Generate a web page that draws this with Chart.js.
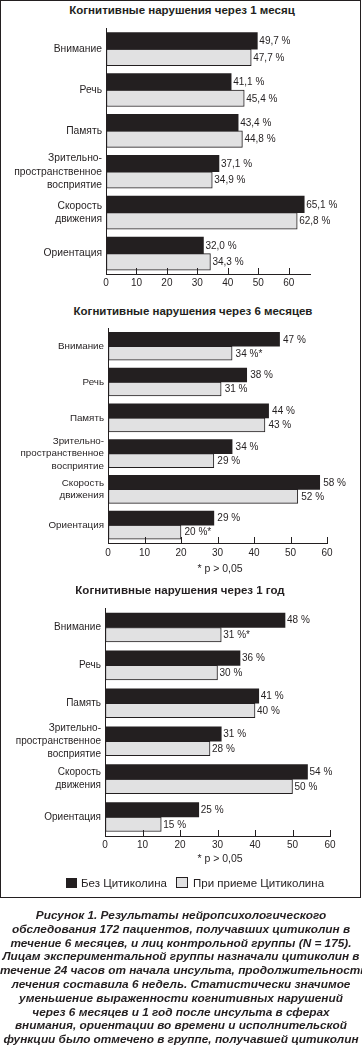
<!DOCTYPE html>
<html lang="ru">
<head>
<meta charset="utf-8">
<script src="https://cdn.jsdelivr.net/npm/chart.js@4.4.0/dist/chart.umd.min.js"></script>
<style>
    body { margin: 0; background: #fff; }
    #page { position: relative; width: 362px; height: 1046px; overflow: hidden; color: #231f20;
            font-family: "Liberation Sans", Arial, sans-serif; }
    #frame { position: absolute; left: 0; top: 0; width: 361px; height: 898px; box-sizing: border-box;
             border: 1.5px solid #231f20; }
    canvas { position: absolute; left: 0; }
    .title { position: absolute; font-weight: bold; font-size: 11.5px; line-height: 14px; white-space: nowrap;
             transform: translateX(-50%); }
    .note { position: absolute; font-size: 10.5px; line-height: 14px; white-space: nowrap; transform: translateX(-50%); }
    .legend-box { position: absolute; box-sizing: border-box; }
    .legend-text { position: absolute; font-size: 11.5px; line-height: 14px; white-space: nowrap; }
    #caption { position: absolute; left: 0; top: 909px; width: 362px; text-align: center;
               font-weight: bold; font-style: italic; font-size: 11.8px; line-height: 13.8px; }
    #caption span { display: block; white-space: nowrap; }
</style>
</head>
<body>
<div id="page">
    <div id="frame"></div>

    <div class="title" style="left:182px; top:3px;">Когнитивные нарушения через 1 месяц</div>
    <canvas id="chartMonth1" width="362" height="282" style="top:18px;"></canvas>

    <div class="title" style="left:193px; top:304px;">Когнитивные нарушения через 6 месяцев</div>
    <canvas id="chartMonth6" width="362" height="250" style="top:318px;"></canvas>
    <div class="note" style="left:220px; top:561px;">* р &gt; 0,05</div>

    <div class="title" style="left:180px; top:583px;">Когнитивные нарушения через 1 год</div>
    <canvas id="chartYear1" width="362" height="260" style="top:598px;"></canvas>
    <div class="note" style="left:220px; top:851px;">* р &gt; 0,05</div>

    <div class="legend-box" style="left:66px; top:878px; width:11px; height:10px; background:#231f20;"></div>
    <div class="legend-text" style="left:81px; top:876px;">Без Цитиколина</div>
    <div class="legend-box" style="left:176px; top:877px; width:12px; height:11px; background:#e1e1e2; border:1px solid #231f20;"></div>
    <div class="legend-text" style="left:193px; top:876px;">При приеме Цитиколина</div>

    <div id="caption">
        <span>Рисунок 1. Результаты нейропсихологического</span>
        <span>обследования 172 пациентов, получавших цитиколин в</span>
        <span>течение 6 месяцев, и лиц контрольной группы (N = 175).</span>
        <span>Лицам экспериментальной группы назначали цитиколин в</span>
        <span>течение 24 часов от начала инсульта, продолжительность</span>
        <span>лечения составила 6 недель. Статистически значимое</span>
        <span>уменьшение выраженности когнитивных нарушений</span>
        <span>через 6 месяцев и 1 год после инсульта в сферах</span>
        <span>внимания, ориентации во времени и исполнительской</span>
        <span>функции было отмечено в группе, получавшей цитиколин</span>
    </div>
</div>

<script>
const categories = ["Внимание", "Речь", "Память", ["Зрительно-", "пространственное", "восприятие"], ["Скорость", "движения"], "Ориентация"];

const month1Without = [49.7, 41.1, 43.4, 37.1, 65.1, 32.0];
const month1With = [47.7, 45.4, 44.8, 34.9, 62.8, 34.3];
const month1Stars = [false, false, false, false, false, false];

const month6Without = [47, 38, 44, 34, 58, 29];
const month6With = [34, 31, 43, 29, 52, 20];
const month6Stars = [true, false, false, false, false, true];

const year1Without = [48, 36, 41, 31, 54, 25];
const year1With = [31, 30, 40, 28, 50, 15];
const year1Stars = [true, false, false, false, false, false];

const dark = "#231f20";
const light = "#e1e1e2";
const fontFamily = "'Liberation Sans', Arial, sans-serif";

// подписи значений справа от столбцов
const valueLabels = {
    id: "valueLabels",
    afterDatasetsDraw(chart, args, opts) {
        const ctx = chart.ctx;
        ctx.save();
        ctx.font = "10px " + fontFamily;
        ctx.fillStyle = dark;
        ctx.textBaseline = "middle";
        ctx.textAlign = "left";
        chart.data.datasets.forEach((ds, i) => {
            chart.getDatasetMeta(i).data.forEach((bar, j) => {
                let text = ds.data[j].toFixed(opts.decimals).replace(".", ",") + " %";
                if (ds.stars && ds.stars[j]) text += "*";
                ctx.fillText(text, bar.x + opts.offset, bar.y + 0.5);
            });
        });
        ctx.restore();
    }
};

// короткие засечки оси X внутрь графика
const innerTicks = {
    id: "innerTicks",
    afterDraw(chart) {
        const scale = chart.scales.x;
        const ctx = chart.ctx;
        ctx.save();
        ctx.strokeStyle = dark;
        ctx.lineWidth = 1;
        scale.ticks.forEach(t => {
            const px = Math.round(scale.getPixelForValue(t.value)) + 0.5;
            ctx.beginPath();
            ctx.moveTo(px, scale.top);
            ctx.lineTo(px, scale.top - 6);
            ctx.stroke();
        });
        ctx.restore();
    }
};

function createChart(canvasId, without, withCit, stars, s) {
    const ctx = document.getElementById(canvasId).getContext("2d");
    return new Chart(ctx, {
        type: "bar",
        data: {
            labels: categories,
            datasets: [{
                label: "Без Цитиколина",
                data: without,
                backgroundColor: dark,
                borderWidth: 0,
                barThickness: s.bar
            }, {
                label: "При приеме Цитиколина",
                data: withCit,
                stars: stars,
                backgroundColor: light,
                borderColor: dark,
                borderWidth: 1,
                borderSkipped: false,
                barThickness: s.bar
            }]
        },
        options: {
            indexAxis: "y",
            responsive: false,
            animation: false,
            layout: { padding: { top: 3, right: s.right, bottom: s.bottom, left: 0 } },
            plugins: {
                legend: { display: false },
                tooltip: { enabled: false },
                valueLabels: { decimals: s.decimals, offset: s.offset }
            },
            scales: {
                x: {
                    min: 0,
                    max: s.max,
                    ticks: { stepSize: 10, includeBounds: false, padding: s.tickPad, color: dark, font: { family: fontFamily, size: 10 } },
                    grid: { drawOnChartArea: false, drawTicks: false },
                    border: { display: true, color: dark, width: 1 },
                    afterFit: scale => { scale.height = 20; }
                },
                y: {
                    ticks: { autoSkip: false, padding: 4, color: dark, font: { family: fontFamily, size: s.labelSize, lineHeight: 1.3 } },
                    grid: { drawOnChartArea: false, drawTicks: false },
                    border: { display: true, color: dark, width: 1 },
                    afterFit: scale => { scale.width = s.left; }
                }
            }
        },
        plugins: [valueLabels, innerTicks]
    });
}

createChart("chartMonth1", month1Without, month1With, month1Stars,
    { bar: 16.5, left: 106, right: 52, bottom: 6, max: 67, decimals: 1, offset: 2, labelSize: 10.3, tickPad: 3 });
createChart("chartMonth6", month6Without, month6With, month6Stars,
    { bar: 14, left: 108, right: 35, bottom: 5, max: 60, decimals: 0, offset: 3.5, labelSize: 9.8, tickPad: 4 });
createChart("chartYear1", year1Without, year1With, year1Stars,
    { bar: 14.5, left: 105, right: 32, bottom: 2, max: 60, decimals: 0, offset: 2, labelSize: 10, tickPad: 3 });
</script>
</body>
</html>
